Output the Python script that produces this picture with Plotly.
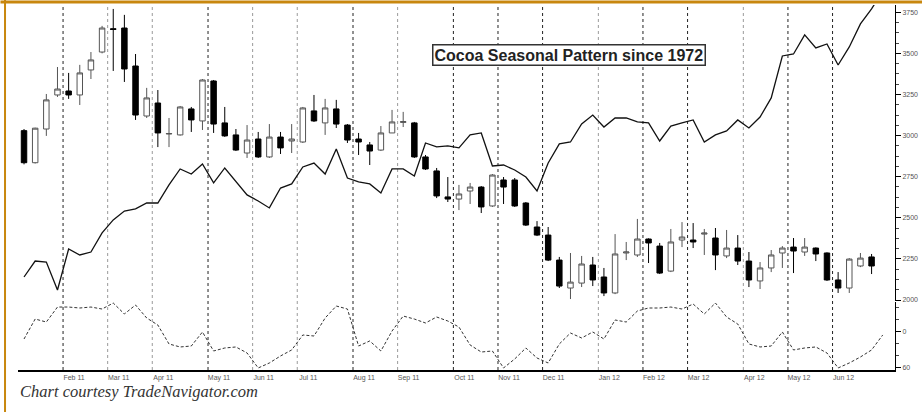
import pandas as pd
import plotly.graph_objects as go

# ---------------- data ----------------
week_start = "2011-01-07"
n_candles = 77
n_points = 78

opens = [3030, 2835, 3040, 3247, 3271, 3247, 3399, 3508, 3650, 3654, 3423, 3119, 3198, 3010, 3004, 3162,
         3089, 3332, 3077, 3004, 2894, 2979, 2870, 2991, 2967, 2961, 3150, 3077, 3162, 3064, 2979, 2943,
         2912, 3016, 3080, 3077, 2870, 2785, 2627, 2614, 2663, 2687, 2572, 2730, 2730, 2590, 2444, 2395,
         2243, 2073, 2103, 2213, 2140, 2043, 2286, 2274, 2371, 2328, 2176, 2365, 2365, 2401, 2377, 2268,
         2316, 2237, 2116, 2195, 2286, 2322, 2292, 2316, 2286, 2122, 2073, 2207, 2262]
highs = [3040, 3048, 3253, 3417, 3381, 3430, 3508, 3667, 3770, 3734, 3496, 3290, 3277, 3107, 3180, 3174,
         3344, 3338, 3174, 3040, 3064, 3022, 3070, 3022, 3070, 3174, 3247, 3223, 3217, 3070, 3016, 2961,
         3058, 3156, 3144, 3083, 2882, 2803, 2748, 2700, 2712, 2693, 2766, 2748, 2742, 2596, 2480, 2444,
         2262, 2286, 2268, 2262, 2195, 2401, 2353, 2493, 2375, 2347, 2432, 2474, 2468, 2432, 2438, 2426,
         2395, 2292, 2231, 2304, 2328, 2377, 2377, 2320, 2290, 2170, 2255, 2286, 2280]
lows = [2825, 2830, 2998, 3235, 3223, 3186, 3344, 3500, 3393, 3326, 3095, 3107, 2930, 2930, 3000, 3022,
        3034, 3016, 2992, 2906, 2864, 2864, 2864, 2888, 2894, 2955, 3083, 3004, 3046, 2955, 2882, 2821,
        2906, 3016, 3052, 2864, 2791, 2620, 2596, 2547, 2584, 2529, 2566, 2584, 2566, 2450, 2389, 2237,
        2073, 2006, 2079, 2085, 2024, 2036, 2243, 2262, 2225, 2158, 2170, 2322, 2316, 2274, 2182, 2255,
        2213, 2079, 2067, 2170, 2195, 2164, 2268, 2237, 2116, 2043, 2043, 2200, 2158]
closes = [2835, 3045, 3217, 3283, 3247, 3381, 3460, 3654, 3645, 3405, 3125, 3229, 3016, 3012, 3174, 3095,
          3338, 3070, 2998, 2912, 2973, 2870, 2991, 2925, 2979, 3168, 3089, 3168, 3070, 2973, 2961, 2906,
          3016, 3083, 3085, 2870, 2797, 2633, 2614, 2645, 2687, 2566, 2760, 2687, 2572, 2456, 2395, 2243,
          2085, 2109, 2219, 2122, 2043, 2280, 2292, 2371, 2347, 2164, 2353, 2383, 2353, 2407, 2274, 2316,
          2237, 2122, 2195, 2274, 2316, 2298, 2322, 2280, 2122, 2073, 2249, 2255, 2207]

# seasonal pattern, drawn on the price scale
seasonal = [2140, 2237, 2231, 2061, 2310, 2274, 2292, 2408, 2487, 2541, 2554, 2590, 2590, 2700, 2797, 2766,
            2827, 2712, 2803, 2718, 2639, 2602, 2560, 2681, 2706, 2809, 2833, 2766, 2918, 2742, 2718, 2706,
            2651, 2797, 2797, 2754, 2955, 2931, 2937, 2925, 3004, 3016, 2815, 2821, 2791, 2748, 2663, 2833,
            2949, 2961, 3071, 3125, 3052, 3107, 3107, 3083, 3077, 2967, 3058, 3077, 3095, 2961, 3004, 3028,
            3095, 3046, 3113, 3229, 3484, 3496, 3612, 3533, 3557, 3429, 3539, 3679, 3770, 3880]

# lower oscillator
oscillator = [-12.5, 20.8, 15.8, 40.8, 40.8, 39.2, 40.8, 37.5, 47.5, 29.2, 44.2, 22.5, 10.8, -20.8, -25.8, -24.2,
              -0.8, -32.5, -27.5, -25.8, -35.8, -60.8, -52.5, -40.8, -30.8, -5.8, -7.5, 22.5, 42.5, 37.5, -24.2, -15.8,
              -32.5, 0.8, 25.8, 20.8, 14.2, 24.2, 17.5, 7.5, -22.5, -34.2, -32.5, -60.8, -45.8, -27.5, -44.2, -52.5,
              -20.8, -2.5, -10.8, -0.8, -12.5, 19.2, 15.8, 34.2, 39.2, 39.2, 40.8, 37.5, 45.8, 29.2, 47.5, 24.2,
              12.5, -20.8, -25.8, -24.2, -0.8, -30.8, -27.5, -25.8, -35.8, -60.8, -52.5, -42.5, -30.8, -5.8]

price_ticks = [2000, 2250, 2500, 2750, 3000, 3250, 3500, 3750]
osc_ticks = [0, -60]
osc_tick_labels = ["0", "60"]
dark_months = {"Feb 11", "May 11", "Aug 11", "Oct 11", "Nov 11", "Dec 11", "Feb 12", "Mar 12", "May 12", "Jun 12"}

title_text = "Cocoa Seasonal Pattern since 1972"
credit_text = "Chart courtesy TradeNavigator.com"

# ---------------- derived ----------------
dates = pd.date_range(week_start, periods=n_points, freq="W-FRI")
idx = list(range(n_points))
cidx = idx[:n_candles]

bounds, blabels = [], []
for i in range(1, n_points):
    if dates[i].month != dates[i - 1].month:
        bounds.append(i - 0.5)
        blabels.append(dates[i].strftime("%b %y"))

fig = go.Figure()
fig.add_trace(go.Candlestick(
    x=cidx, open=opens, high=highs, low=lows, close=closes,
    increasing=dict(fillcolor="white", line=dict(color="#555555", width=1)),
    decreasing=dict(fillcolor="black", line=dict(color="black", width=1)),
    whiskerwidth=0, showlegend=False, xaxis="x", yaxis="y"))
fig.add_trace(go.Scatter(x=idx, y=seasonal, mode="lines",
                         line=dict(color="#111111", width=1.3), showlegend=False,
                         xaxis="x", yaxis="y"))
fig.add_trace(go.Scatter(x=idx, y=oscillator, mode="lines",
                         line=dict(color="#333333", width=1, dash="3px,2px"), showlegend=False,
                         xaxis="x", yaxis="y2"))

shapes = []
for b, lab in zip(bounds, blabels):
    dark = lab in dark_months
    shapes.append(dict(type="line", xref="x", yref="paper", x0=b, x1=b, y0=0, y1=1,
                       line=dict(color="#222222" if dark else "#9a9a9a", width=1, dash="dot"),
                       layer="below"))
# orange frame
shapes.append(dict(type="line", xref="paper", yref="paper", x0=-0.0148, x1=-0.0148, y0=-0.12, y1=1.02,
                   line=dict(color="#C8870E", width=2)))
shapes.append(dict(type="line", xref="paper", yref="paper", x0=-0.02, x1=1.04, y0=1.0082, y1=1.0082,
                   line=dict(color="#C8870E", width=3)))

tick_font = dict(family="Liberation Sans, Arial", size=7, color="#555555")

fig.update_layout(
    width=922, height=412,
    margin=dict(l=18, r=27, t=5, b=42),
    paper_bgcolor="white", plot_bgcolor="white",
    showlegend=False,
    shapes=shapes,
    xaxis=dict(range=[-0.54, 78.1], anchor="y2", showgrid=False, zeroline=False,
               showline=True, linecolor="black", linewidth=1.5,
               tickmode="array", tickvals=bounds, ticktext=blabels, ticks="",
               ticklabelshift=11, tickfont=tick_font,
               rangeslider=dict(visible=False)),
    yaxis=dict(domain=[0.189, 1], range=[1994, 3794], side="right", anchor="x",
               showgrid=False, zeroline=False, showline=True, linecolor="black", linewidth=1,
               tickmode="array", tickvals=price_ticks, ticktext=[str(v) for v in price_ticks],
               ticks="outside", ticklen=5, tickcolor="black", tickfont=tick_font,
               minor=dict(dtick=62.5, tick0=2000, ticks="outside", ticklen=3, tickcolor="#444444")),
    yaxis2=dict(domain=[0, 0.1863], range=[-64.2, 49.2], side="right", anchor="x",
                showgrid=False, zeroline=False, showline=True, linecolor="black", linewidth=1,
                tickmode="array", tickvals=osc_ticks, ticktext=osc_tick_labels,
                ticks="outside", ticklen=5, tickcolor="black", tickfont=tick_font,
                minor=dict(dtick=20, tick0=0, ticks="outside", ticklen=3, tickcolor="#444444")),
    annotations=[
        dict(text="<b>" + title_text + "</b>", xref="paper", yref="paper", x=0.628, y=0.864,
             xanchor="center", yanchor="middle", showarrow=False,
             font=dict(family="Liberation Sans, Arial", size=16, color="#222222"),
             bordercolor="#333333", borderwidth=1.5, borderpad=1, bgcolor="white"),
        dict(text="<i>" + credit_text + "</i>", xref="paper", yref="paper", x=0.0, y=-0.060,
             xanchor="left", yanchor="middle", showarrow=False,
             font=dict(family="Liberation Serif, Times New Roman", size=16.5, color="#333333")),
    ],
)

fig.write_html("out.html", config={"displayModeBar": False},
               post_script="document.body.style.margin='0px';document.body.style.overflow='hidden';")
